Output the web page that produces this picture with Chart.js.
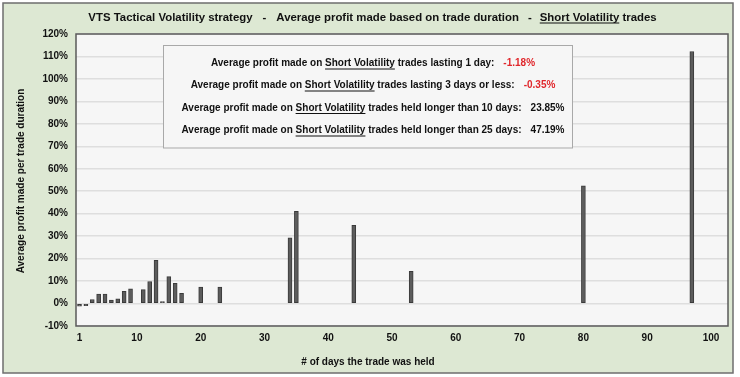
<!DOCTYPE html>
<html lang="en">
<head>
    <meta charset="UTF-8">
    <title>VTS Tactical Volatility - Short Volatility trades</title>
    <script src="https://cdn.jsdelivr.net/npm/chart.js"></script>
    <style>
        html, body { margin: 0; padding: 0; background: #ffffff; }
    </style>
</head>
<body>
    <canvas id="grafico" width="740" height="377"></canvas>

    <script>
        // dados
        const tradeDays = [1, 2, 3, 4, 5, 6, 7, 8, 9, 11, 12, 13, 14, 15, 16, 17, 20, 23, 34, 35, 44, 53, 80, 97];
        const avgProfit = [-1.2, -1.0, 1.8, 4.2, 4.2, 1.5, 2.1, 5.4, 6.5, 6.2, 9.8, 19.2, 0.9, 12.0, 9.0, 4.6, 7.3, 7.3, 29.3, 41.1, 34.8, 14.3, 52.4, 112.2];
        const xTickValues = [1, 10, 20, 30, 40, 50, 60, 70, 80, 90, 100];

        const summaryLabels = ['trades lasting 1 day:', 'trades lasting 3 days or less:', 'trades held longer than 10 days:', 'trades held longer than 25 days:'];
        const summaryValues = ['-1.18%', '-0.35%', '23.85%', '47.19%'];
        const summaryColors = ['#e0262b', '#e0262b', '#111111', '#111111'];

        const FONTE = '"Liberation Sans", Arial, sans-serif';
        const bold = size => 'bold ' + size + 'px ' + FONTE;

        // escreve uma linha com trechos (alguns sublinhados) centrada em cx
        function drawRuns(ctx, runs, cx, y) {
            let total = 0;
            runs.forEach(r => {
                ctx.font = r.font;
                r.w = ctx.measureText(r.text).width;
                total += r.w + (r.gap || 0);
            });
            let x = cx - total / 2;
            ctx.textAlign = 'left';
            ctx.textBaseline = 'middle';
            runs.forEach(r => {
                x += r.gap || 0;
                ctx.font = r.font;
                ctx.fillStyle = r.color || '#111111';
                ctx.fillText(r.text, x, y);
                if (r.underline) {
                    ctx.fillRect(x, y + 5, r.w, 1);
                }
                x += r.w;
            });
        }

        const molduraPlugin = {
            id: 'moldura',
            beforeDraw(chart) {
                const ctx = chart.ctx;
                const a = chart.chartArea;
                ctx.save();
                ctx.fillStyle = '#ffffff';
                ctx.fillRect(0, 0, chart.width, chart.height);
                ctx.fillStyle = '#dde8d3';
                ctx.fillRect(3, 3, 730, 370);
                ctx.strokeStyle = '#6e6e6e';
                ctx.lineWidth = 1.5;
                ctx.strokeRect(3, 3, 730, 370);
                ctx.fillStyle = '#f6f6f6';
                ctx.fillRect(a.left, a.top, a.right - a.left, a.bottom - a.top);
                ctx.restore();
            },
            afterDraw(chart) {
                const ctx = chart.ctx;
                const a = chart.chartArea;
                ctx.save();

                // borda da area do grafico
                ctx.strokeStyle = '#5a5a5a';
                ctx.lineWidth = 1.5;
                ctx.strokeRect(a.left, a.top, a.right - a.left, a.bottom - a.top);

                // titulo
                const ft = bold(11.4);
                drawRuns(ctx, [
                    { text: 'VTS Tactical Volatility strategy', font: ft },
                    { text: '-', font: ft, gap: 10 },
                    { text: 'Average profit made based on trade duration', font: ft, gap: 10 },
                    { text: '-', font: ft, gap: 9 },
                    { text: 'Short Volatility', font: ft, gap: 8, underline: true },
                    { text: ' trades', font: ft }
                ], 372.5, 17.5);

                // caixa de resumo
                ctx.fillStyle = '#f6f6f6';
                ctx.fillRect(163.5, 45.5, 409, 102.5);
                ctx.strokeStyle = '#a9a9a9';
                ctx.lineWidth = 1;
                ctx.strokeRect(163.5, 45.5, 409, 102.5);
                const linhasY = [63.5, 85.5, 108, 130.5];
                summaryLabels.forEach((label, i) => {
                    drawRuns(ctx, [
                        { text: 'Average profit made on ', font: bold(10) },
                        { text: 'Short Volatility', font: bold(10), underline: true },
                        { text: ' ' + label, font: bold(10) },
                        { text: summaryValues[i], font: bold(10), gap: 9, color: summaryColors[i] }
                    ], 373, linhasY[i]);
                });

                // titulos dos eixos
                ctx.fillStyle = '#111111';
                ctx.font = bold(10);
                ctx.textAlign = 'center';
                ctx.textBaseline = 'middle';
                ctx.fillText('# of days the trade was held', 368, 362);
                ctx.translate(21, 181);
                ctx.rotate(-Math.PI / 2);
                ctx.fillText('Average profit made per trade duration', 0, 0);
                ctx.restore();
            }
        };

        const pontos = tradeDays.map((d, i) => ({ x: d, y: avgProfit[i] }));

        new Chart(document.getElementById('grafico'), {
            type: 'bar',
            data: {
                datasets: [{
                    label: 'Average profit',
                    data: pontos,
                    backgroundColor: '#5c5c5c',
                    borderColor: '#3a3a3a',
                    borderWidth: 1,
                    borderSkipped: false,
                    barThickness: 4
                }]
            },
            options: {
                responsive: false,
                animation: false,
                devicePixelRatio: 1,
                layout: { padding: { top: 34, right: 12, left: 0, bottom: 0 } },
                plugins: {
                    legend: { display: false },
                    tooltip: { enabled: false }
                },
                scales: {
                    x: {
                        type: 'linear',
                        min: 0.45,
                        max: 102.67,
                        offset: false,
                        grid: { display: false, drawTicks: false },
                        border: { display: false },
                        ticks: { font: { family: FONTE, size: 10, weight: 'bold' }, color: '#111111', padding: 6, autoSkip: false, maxRotation: 0 },
                        afterBuildTicks: scale => { scale.ticks = xTickValues.map(v => ({ value: v })); },
                        afterFit: scale => { scale.height = 51; }
                    },
                    y: {
                        min: -10,
                        max: 120,
                        grid: { color: '#dedede', lineWidth: 1.5, drawTicks: false },
                        border: { display: false },
                        ticks: {
                            stepSize: 10,
                            font: { family: FONTE, size: 10, weight: 'bold' },
                            color: '#111111',
                            padding: 8,
                            callback: v => v + '%'
                        },
                        afterFit: scale => { scale.width = 76; }
                    }
                }
            },
            plugins: [molduraPlugin]
        });
    </script>
</body>
</html>
